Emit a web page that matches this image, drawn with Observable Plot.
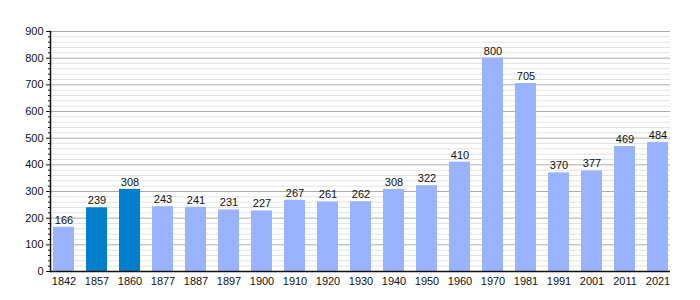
<!DOCTYPE html>
<html>
<head>
<meta charset="utf-8">
<script src="https://cdn.jsdelivr.net/npm/d3@7"></script>
<script src="https://cdn.jsdelivr.net/npm/@observablehq/plot@0.6"></script>
<style>
html,body{margin:0;padding:0;background:#fff;}
</style>
</head>
<body>
<div id="chart"></div>
<script>
const years = ["1842","1857","1860","1877","1887","1897","1900","1910","1920","1930","1940","1950","1960","1970","1981","1991","2001","2011","2021"];
const population = [166,239,308,243,241,231,227,267,261,262,308,322,410,800,705,370,377,469,484];
const highlighted = ["1857","1860"];
const majorTicks = [0,100,200,300,400,500,600,700,800,900];
const minorTicks = d3.range(0, 901, 20).filter(v => v % 100 !== 0);

const data = years.map((y, i) => ({year: y, value: population[i], hi: highlighted.includes(y)}));

const chart = Plot.plot({
  width: 700,
  height: 300,
  marginTop: 31,
  marginBottom: 29,
  marginLeft: 50,
  marginRight: 30,
  style: {fontFamily: "'Liberation Sans', Arial, sans-serif", fontSize: "11px", color: "#222", background: "#fff"},
  x: {domain: years, paddingInner: 0.37, paddingOuter: 0.04, label: null},
  y: {domain: [0, 900], label: null},
  marks: [
    Plot.ruleY(minorTicks, {stroke: "#e2e2e2", strokeWidth: 1}),
    Plot.ruleY(majorTicks, {stroke: "#aaaaaa", strokeWidth: 1}),
    Plot.barY(data, {x: "year", y: "value", fill: d => d.hi ? "#0080cc" : "#99b3ff"}),
    Plot.text(data, {x: "year", y: "value", text: d => String(d.value), dy: -7, fill: "#111", fontSize: 11}),
    Plot.axisY(minorTicks, {tickSize: 2, tickFormat: () => "", stroke: "#111"}),
    Plot.axisY(majorTicks, {tickSize: 4, tickPadding: 3, stroke: "#111", fill: "#111"}),
    Plot.axisX({tickSize: 0, tickPadding: 6, fill: "#111"}),
    Plot.frame({anchor: "left", stroke: "#111", strokeWidth: 1.5}),
    Plot.ruleY([0], {stroke: "#111", strokeWidth: 1.5})
  ]
});
document.getElementById("chart").appendChild(chart);
</script>
</body>
</html>
